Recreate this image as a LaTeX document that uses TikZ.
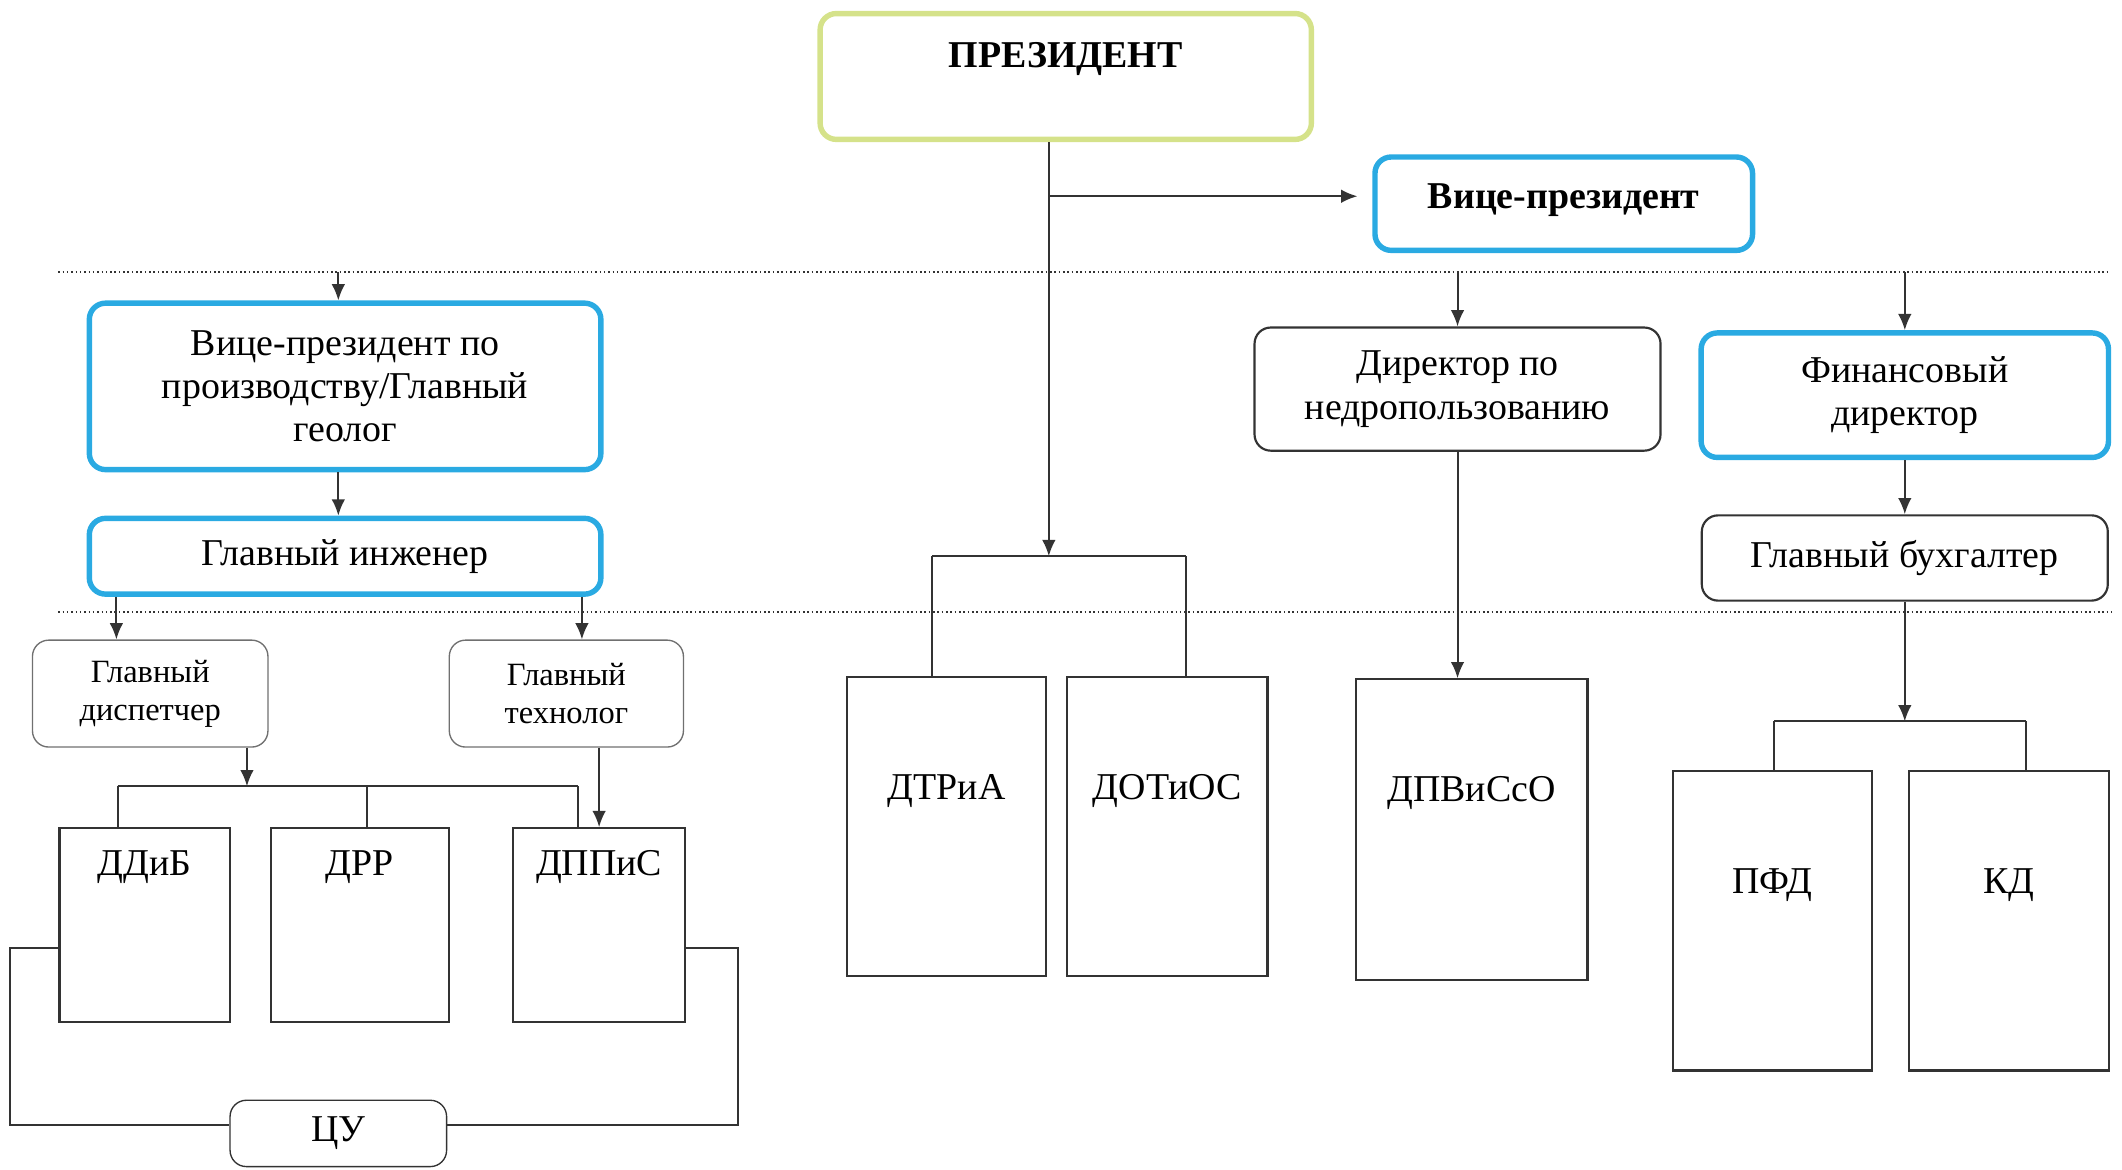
\documentclass[tikz,border=0pt]{standalone}
\usepackage{fontspec}
\setmainfont{Liberation Serif}
\usepackage{xcolor}
\usetikzlibrary{positioning,arrows.meta,calc}
\definecolor{headgreen}{HTML}{D5E28A}
\definecolor{mainblue}{HTML}{2AAAE2}
\definecolor{ink}{HTML}{333333}
\tikzset{
    headbox/.style={rectangle, draw=headgreen, line width=2pt, rounded corners=6pt, font=\fontsize{14pt}{16pt}\selectfont\bfseries},
    bluebox/.style={rectangle, draw=mainblue, line width=2pt, rounded corners=6pt, align=center, font=\fontsize{14pt}{16pt}\selectfont},
    dirbox/.style={rectangle, draw=ink, line width=0.8pt, rounded corners=6pt, align=center, font=\fontsize{14pt}{16pt}\selectfont},
    subbox/.style={rectangle, draw=ink!70, line width=0.5pt, rounded corners=6pt, align=center, font=\fontsize{12pt}{14pt}\selectfont},
    deptbox/.style={rectangle, draw=ink, line width=0.8pt, font=\fontsize{14pt}{16pt}\selectfont, text height=10pt, text depth=#1},
    line/.style={draw=ink, line width=0.75pt},
    arr/.style={line, -{Latex[length=6pt,width=5pt]}},
    sepline/.style={draw=ink, line width=0.6pt, densely dotted}
}
\begin{document}
\begin{tikzpicture}[x=0.5pt, y=-0.5pt]
    \useasboundingbox (0,0) rectangle (1568,864);

    % President and vice-president
    \node [headbox, minimum width=181.5pt, minimum height=46.5pt, text height=10pt, text depth=16.5pt] (pres) at (787.5,56.5) {ПРЕЗИДЕНТ};
    \node [bluebox, font=\fontsize{14pt}{16pt}\selectfont\bfseries, minimum width=139.5pt, minimum height=34.5pt, text height=10pt, text depth=6.5pt, below right=4.5pt and 21.5pt of pres] (vp) {Вице-президент};

    % Separators
    \coordinate (bus1) at (43,201);
    \coordinate (bus1e) at (1557,201);
    \coordinate (bus2) at (43,452);
    \coordinate (bus2e) at (1560,452);
    \draw [sepline] (bus1) -- (bus1e);
    \draw [sepline] (bus2) -- (bus2e);

    % Production branch
    \node [bluebox, minimum width=189pt, minimum height=61.5pt] (vpprod) at (255,285.5) {Вице-президент по\\производству/Главный\\геолог};
    \node [bluebox, minimum width=189pt, minimum height=28pt, below=16pt of vpprod] (glinj) {Главный инженер};
    \node [subbox, minimum width=87pt, minimum height=39.5pt] (gdisp) at (111,512.5) {Главный\\диспетчер};
    \node [subbox, minimum width=86.5pt, minimum height=39.5pt, right=66.5pt of gdisp] (gtech) {Главный\\технолог};
    \node [deptbox=46.5pt, minimum width=63pt, minimum height=71.5pt] (ddib) at (107,683.5) {ДДиБ};
    \node [deptbox=46.5pt, minimum width=65.75pt, minimum height=71.5pt, right=14.25pt of ddib] (drr) {ДРР};
    \node [deptbox=46.5pt, minimum width=63.5pt, minimum height=71.5pt, right=23pt of drr] (dppis) {ДППиС};
    \node [subbox, draw=ink, minimum width=80pt, minimum height=24.5pt, font=\fontsize{14pt}{16pt}\selectfont] (cu) at (250,837.5) {ЦУ};

    % Departments under the president
    \node [deptbox=29.5pt, minimum width=73.5pt, minimum height=110.5pt] (dtria) at (699.5,610.5) {ДТРиА};
    \node [deptbox=29.5pt, minimum width=74pt, minimum height=110.5pt, right=7pt of dtria] (dotios) {ДОТиОС};

    % Subsoil use
    \node [dirbox, minimum width=150pt, minimum height=45.5pt] (dirnedr) at (1077,287.5) {Директор по\\недропользованию};
    \node [deptbox=31pt, minimum width=85.5pt, minimum height=111pt] (dpvisso) at (1087.5,613) {ДПВиСсО};

    % Finance
    \node [bluebox, minimum width=150.5pt, minimum height=46pt] (findir) at (1407.5,292) {Финансовый\\директор};
    \node [dirbox, minimum width=150pt, minimum height=31.5pt, below=20pt of findir] (glbuh) {Главный бухгалтер};
    \node [deptbox=30.5pt, minimum width=73.5pt, minimum height=110.5pt] (pfd) at (1309.5,680.5) {ПФД};
    \node [deptbox=30.5pt, minimum width=74pt, minimum height=110.5pt, right=13pt of pfd] (kd) {КД};

    % President links
    \coordinate (midtop) at (775,411);
    \coordinate (vpfork) at (775,145);
    \coordinate (midl) at (689,411);
    \coordinate (midr) at (876,411);
    \draw [arr] (pres.south -| midtop) -- (midtop);
    \draw [arr, shorten >=5.5pt] (vpfork) -- (vpfork -| vp.west);
    \draw [line] (midl) -- (midr);
    \draw [line] (midl) -- (midl |- dtria.north);
    \draw [line] (midr) -- (midr |- dotios.north);

    % Production links
    \coordinate (leftbus) at (250,201);
    \coordinate (lowl) at (87,581);
    \coordinate (lowm) at (271,581);
    \coordinate (lowr) at (427,581);
    \draw [arr] (leftbus) -- (leftbus |- vpprod.north);
    \draw [arr] (leftbus |- vpprod.south) -- (leftbus |- glinj.north);
    \draw [arr] ([xshift=11pt]glinj.south west) -- ([xshift=11pt]glinj.south west |- gdisp.north);
    \draw [arr] ([xshift=-8pt]glinj.south east) -- ([xshift=-8pt]glinj.south east |- gtech.north);
    \draw [arr] ([xshift=-8pt]gdisp.south east) -- ([xshift=-8pt]gdisp.south east |- lowl);
    \draw [arr] (gtech.south -| dppis.north) -- (dppis.north);
    \draw [line] (lowl) -- (lowr);
    \draw [line] (lowl) -- (lowl |- ddib.north);
    \draw [line] (lowm) -- (lowm |- drr.north);
    \draw [line] (lowr) -- (lowr |- dppis.north);

    % Control loop
    \coordinate (loopl) at (7.5,831);
    \coordinate (loopr) at (545,831);
    \draw [line] ([yshift=-8.5pt]ddib.west) -| (loopl) -- (loopl -| cu.west);
    \draw [line] ([yshift=-8.5pt]dppis.east) -| (loopr) -- (loopr -| cu.east);

    % Subsoil and finance links
    \coordinate (finl) at (1311,533);
    \coordinate (finr) at (1497,533);
    \draw [arr] (dirnedr.north |- bus1) -- (dirnedr.north);
    \draw [arr] (dirnedr.south) -- (dirnedr.south |- dpvisso.north);
    \draw [arr] (findir.north |- bus1) -- (findir.north);
    \draw [arr] (findir.south) -- (glbuh.north);
    \draw [arr] (glbuh.south) -- (glbuh.south |- finl);
    \draw [line] (finl) -- (finr);
    \draw [line] (finl) -- (finl |- pfd.north);
    \draw [line] (finr) -- (finr |- kd.north);
\end{tikzpicture}
\end{document}
